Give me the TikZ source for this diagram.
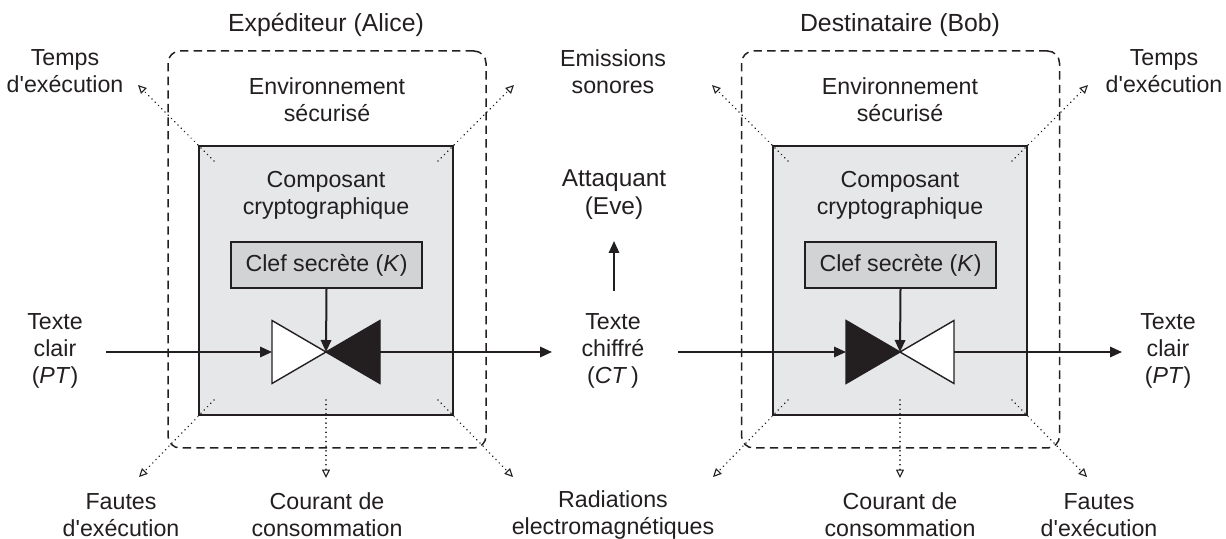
\documentclass[tikz,border=0pt]{standalone}
\usepackage{fontspec}
\setmainfont{Liberation Sans}
\usetikzlibrary{arrows.meta}
\definecolor{ink}{HTML}{231F20}
\definecolor{compfill}{HTML}{E6E7E8}
\definecolor{keyfill}{HTML}{D1D3D4}
\newcommand{\apo}{\textquotesingle}
\begin{document}
\begin{tikzpicture}[x=0.5pt,y=-0.5pt,
  lbl/.style={align=center, font=\fontsize{11.6}{13.5}\selectfont, text=ink, inner sep=0pt},
  ttl/.style={align=center, font=\fontsize{12.4}{14}\selectfont, text=ink, inner sep=0pt},
  envbox/.style={draw=ink, line width=0.75pt, dash pattern=on 4.2pt off 2.6pt, rounded corners=6pt, minimum width=159pt, minimum height=198.5pt, inner sep=0pt},
  compbox/.style={draw=ink, fill=compfill, line width=0.95pt, minimum width=127pt, minimum height=134.5pt, inner sep=0pt},
  keybox/.style={draw=ink, fill=keyfill, line width=0.95pt, minimum width=95.5pt, minimum height=23pt, inner sep=0pt, font=\fontsize{11.6}{13.5}\selectfont, text=ink},
  arr/.style={draw=ink, line width=1pt, -{Triangle[length=6pt,width=5.2pt]}},
  leak/.style={draw=ink, line width=0.85pt, dash pattern=on 0.01pt off 2.3pt, line cap=round, -{Triangle[open,length=4.2pt,width=4pt,line width=0.55pt]}},
  tri/.style={draw=ink, line width=0.7pt, line join=miter},
  ]
\useasboundingbox (0,0) rectangle (1226,539);

% titles
\node[ttl] (titA) at (326,25) {Expéditeur (Alice)};
\node[ttl] (titB) at (900,25) {Destinataire (Bob)};

% secure environments
\node[envbox] (envA) at (327,249.5) {};
\node[envbox] (envB) at (900.5,249.5) {};
\node[lbl] (envtA) at (327,99.5) {Environnement\\sécurisé};
\node[lbl] (envtB) at (900,99.5) {Environnement\\sécurisé};

% crypto components
\node[compbox] (gA) at (326,280.5) {};
\node[compbox] (gB) at (900,280.5) {};
\node[lbl] (compA) at (326,195) {Composant\\cryptographique};
\node[lbl] (compB) at (900,195) {Composant\\cryptographique};
\node[keybox] (keyA) at (326.5,265) {Clef secrète (\textit{K})};
\node[keybox] (keyB) at (900.5,265) {Clef secrète (\textit{K})};

% triangles Alice
\coordinate (apexA) at (326,352);
\coordinate (wA) at (272,352);
\coordinate (bA) at (380,352);
\draw[tri, fill=white] (272,320.5) -- (272,383.5) -- (apexA) -- cycle;
\draw[tri, fill=ink] (380,320.5) -- (380,383.5) -- (apexA) -- cycle;
% triangles Bob
\coordinate (apexB) at (900,352);
\coordinate (bB) at (846,352);
\coordinate (wB) at (954,352);
\draw[tri, fill=ink] (846,320.5) -- (846,383.5) -- (apexB) -- cycle;
\draw[tri, fill=white] (954,320.5) -- (954,383.5) -- (apexB) -- cycle;

% key arrows
\draw[arr] (keyA.south) -- (apexA);
\draw[arr] (keyB.south) -- (apexB);

% texts
\node[lbl] (ptA) at (55,351) {Texte\\clair\\(\textit{PT\/})};
\node[lbl] (ct) at (613,351) {Texte\\chiffré\\(\textit{CT}\,)};
\node[lbl] (ptB) at (1168,351) {Texte\\clair\\(\textit{PT\/})};
\node[lbl] (emis) at (613,71.5) {Emissions\\sonores};
\node[lbl, font=\fontsize{12.2}{14}\selectfont] (eve) at (614,195) {Attaquant\\(Eve)};
\node[lbl] (tempsA) at (65,71.5) {Temps\\d\apo exécution};
\node[lbl] (tempsB) at (1164,71.5) {Temps\\d\apo exécution};
\node[lbl] (fautA) at (121,515) {Fautes\\d\apo exécution};
\node[lbl] (courA) at (327,515) {Courant de\\consommation};
\node[lbl] (radi) at (613,515) {Radiations\\electromagnétiques};
\node[lbl] (courB) at (900,515) {Courant de\\consommation};
\node[lbl] (fautB) at (1099,515) {Fautes\\d\apo exécution};

% main data flow
\coordinate (inA) at (106,352);
\coordinate (outA) at (552,352);
\coordinate (inB) at (678,352);
\coordinate (outB) at (1122,352);
\draw[arr] (inA) -- (wA);
\draw[arr] (bA) -- (outA);
\draw[arr] (inB) -- (bB);
\draw[arr] (wB) -- (outB);
\coordinate (eveFrom) at (614,291);
\coordinate (eveTo) at (614,241);
\draw[arr] (eveFrom) -- (eveTo);

% leakage channels
\foreach \s/\c in {A/326,B/900}{
  \coordinate (ulS\s) at (\c-112,161);
  \coordinate (ulT\s) at (\c-188,85);
  \coordinate (urS\s) at (\c+112,161);
  \coordinate (urT\s) at (\c+188,85);
  \coordinate (llS\s) at (\c-112,400);
  \coordinate (llT\s) at (\c-187,477);
  \coordinate (cS\s) at (\c,400);
  \coordinate (cT\s) at (\c,478);
  \coordinate (lrS\s) at (\c+112,400);
  \coordinate (lrT\s) at (\c+187,477);
  \draw[leak] (ulS\s) -- (ulT\s);
  \draw[leak] (urS\s) -- (urT\s);
  \draw[leak] (llS\s) -- (llT\s);
  \draw[leak] (cS\s) -- (cT\s);
  \draw[leak] (lrS\s) -- (lrT\s);
}
\end{tikzpicture}
\end{document}
